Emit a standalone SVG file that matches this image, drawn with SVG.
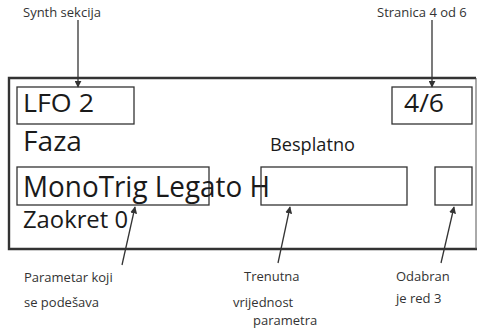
<svg xmlns="http://www.w3.org/2000/svg" width="477" height="331" viewBox="0 0 477 331">
<style>
.box{fill:none;stroke:#333;stroke-width:1.3}
.big{font-family:"Open Sans",sans-serif;fill:#1a1a1a}
.lbl{font-family:"Open Sans",sans-serif;font-size:13px;fill:#333}
.con{stroke:#333;stroke-width:1.3;fill:none;marker-end:url(#ah)}
</style>
<defs>
<marker id="ah" viewBox="0 0 10 10" refX="9" refY="5" markerWidth="7" markerHeight="7" markerUnits="userSpaceOnUse" orient="auto">
<path d="M0,0 L10,5 L0,10 Z" fill="#333"/>
</marker>
</defs>
<rect width="477" height="331" fill="#fff"/>
<g id="frame">
<path d="M476,78 L9,78 L9,249 L477,249" fill="none" stroke="#333" stroke-width="2.4"/>
<line x1="476" y1="78" x2="476" y2="249" stroke="#555" stroke-width="1"/>
</g>
<g id="lfo"><rect class="box" x="17" y="87" width="117" height="37"/><text class="big" x="23" y="112" font-size="25" textLength="71" lengthAdjust="spacingAndGlyphs">LFO 2</text></g>
<g id="page"><rect class="box" x="392" y="87" width="80" height="37"/><text class="big" x="404" y="112" font-size="25" textLength="40" lengthAdjust="spacingAndGlyphs">4/6</text></g>
<g id="faza"><text class="big" x="23" y="151" font-size="27" textLength="59" lengthAdjust="spacingAndGlyphs">Faza</text></g>
<g id="besplatno"><text class="big" x="270" y="151" font-size="18" textLength="85" lengthAdjust="spacingAndGlyphs">Besplatno</text></g>
<g id="param"><rect class="box" x="17" y="167" width="192" height="38"/><text class="big" x="23" y="197" font-size="29" textLength="247" lengthAdjust="spacingAndGlyphs">MonoTrig Legato H</text></g>
<g id="value"><rect class="box" x="261" y="167" width="146" height="38"/></g>
<g id="row"><rect class="box" x="435" y="167" width="37" height="38"/></g>
<g id="zaokret"><text class="big" x="23" y="228" font-size="23" textLength="105" lengthAdjust="spacingAndGlyphs">Zaokret 0</text></g>
<g id="labels">
<text class="lbl" x="23" y="17">Synth sekcija</text>
<text class="lbl" x="377" y="17">Stranica 4 od 6</text>
<text class="lbl" x="24" y="282">Parametar koji</text>
<text class="lbl" x="24" y="307">se podešava</text>
<text class="lbl" x="244" y="281">Trenutna</text>
<text class="lbl" x="233" y="307">vrijednost</text>
<text class="lbl" x="253" y="325">parametra</text>
<text class="lbl" x="396" y="281">Odabran</text>
<text class="lbl" x="396" y="303">je red 3</text>
</g>
<g id="connectors">
<line class="con" x1="78" y1="20" x2="78" y2="87"/>
<line class="con" x1="432" y1="20" x2="432" y2="87"/>
<line class="con" x1="122" y1="265" x2="135" y2="207"/>
<line class="con" x1="278" y1="263" x2="290" y2="207"/>
<line class="con" x1="441" y1="263" x2="454" y2="207"/>
</g>
</svg>
